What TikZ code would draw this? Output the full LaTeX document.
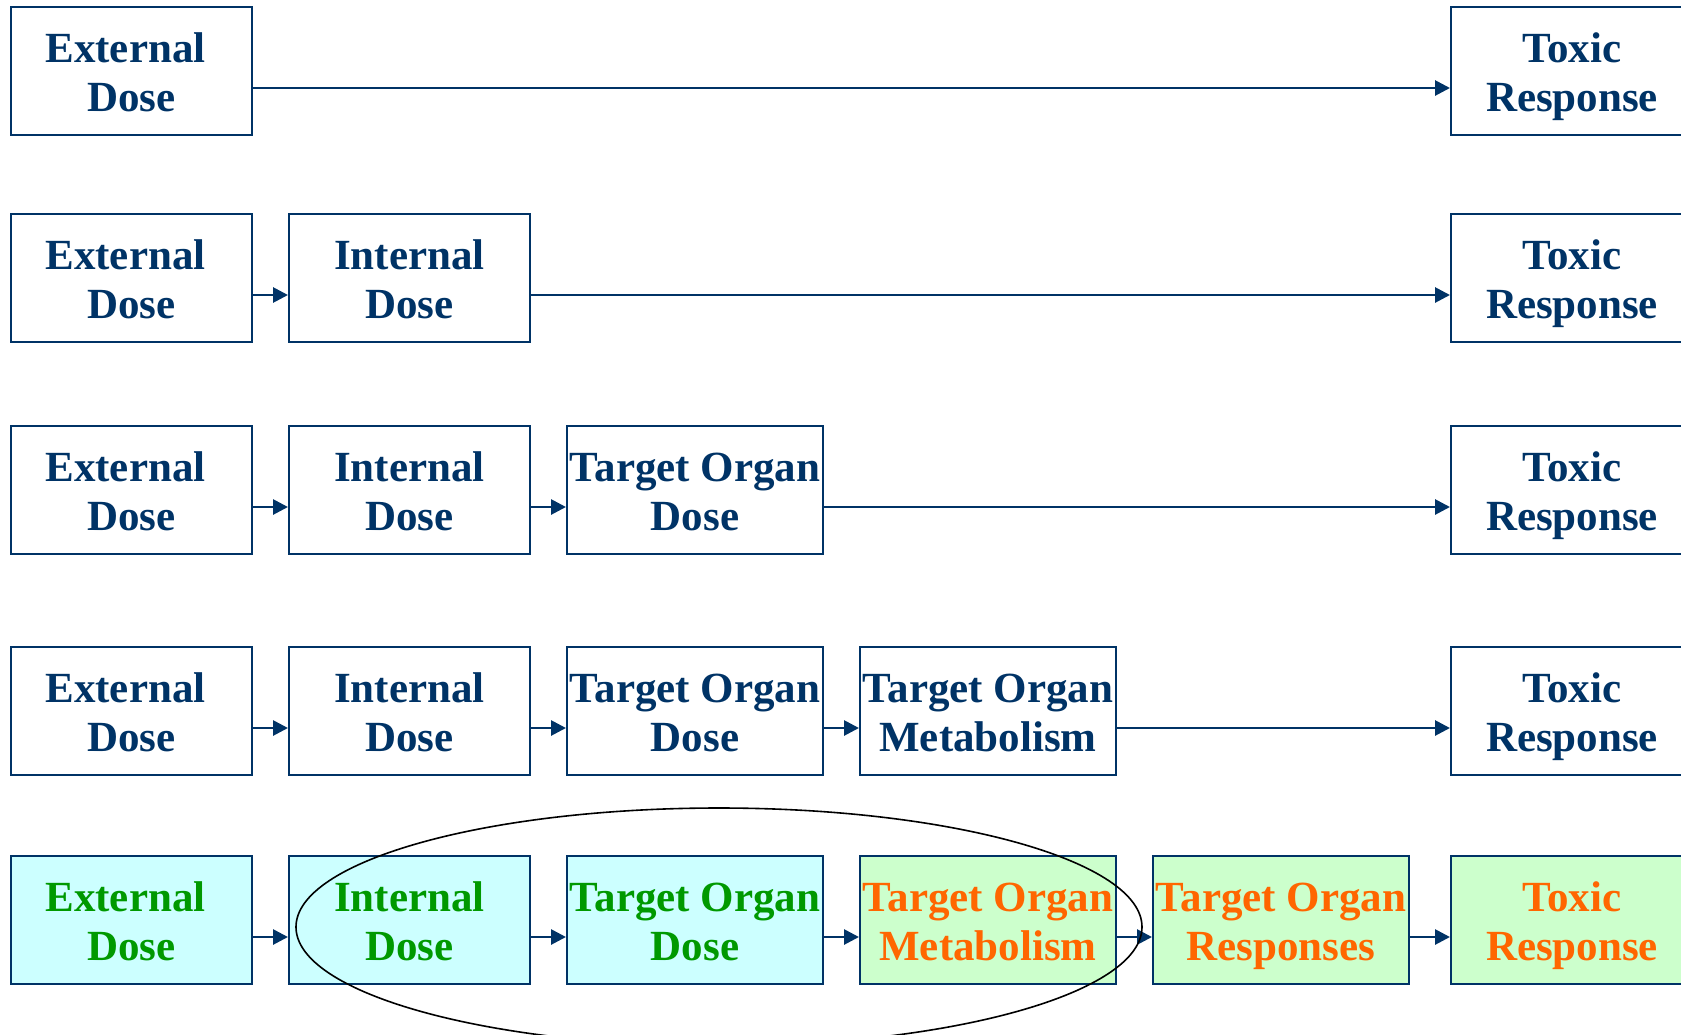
\documentclass[tikz,border=0pt]{standalone}
\usepackage{fontspec}
\setmainfont{Liberation Serif}
\usetikzlibrary{arrows.meta}
\definecolor{navy}{RGB}{0,51,102}
\definecolor{cyanfill}{RGB}{204,255,255}
\definecolor{greenfill}{RGB}{204,255,204}
\definecolor{gtext}{RGB}{0,153,0}
\definecolor{otext}{RGB}{255,102,0}
\newcommand\twol[2]{\rule{0pt}{41pt}#1\\#2\rule[-9pt]{0pt}{0pt}}
\newcommand\extl{External\kern12pt\rule{0pt}{1pt}}
\begin{document}
\begin{tikzpicture}[x=1pt,y=-1pt,
  box/.style={draw=navy, line width=2pt, rectangle, anchor=north west,
    minimum height=128pt, inner sep=0pt, align=center,
    font=\fontsize{43}{49}\selectfont\bfseries, text=navy},
  wa/.style={minimum width=241pt},
  wb/.style={minimum width=256pt},
  wc/.style={minimum width=242pt},
  blue/.style={fill=cyanfill, text=gtext},
  lgreen/.style={fill=greenfill, text=otext},
  link/.style={navy, line width=2.8pt, -{Triangle[length=15pt,width=15pt]}},
  ring/.style={draw=black, line width=1.6pt}
]
\useasboundingbox (0,0) rectangle (1681,1034);

% Row 1
\node[box,wa] (a1) at (10,6) {\twol{\extl}{Dose}};
\node[box,wc] (f1) at (1450,6) {\twol{Toxic}{Response}};
% Row 2
\node[box,wa] (a2) at (10,213) {\twol{\extl}{Dose}};
\node[box,wa] (b2) at (288,213) {\twol{Internal}{Dose}};
\node[box,wc] (f2) at (1450,213) {\twol{Toxic}{Response}};
% Row 3
\node[box,wa] (a3) at (10,425) {\twol{\extl}{Dose}};
\node[box,wa] (b3) at (288,425) {\twol{Internal}{Dose}};
\node[box,wb] (c3) at (566,425) {\twol{Target Organ}{Dose}};
\node[box,wc] (f3) at (1450,425) {\twol{Toxic}{Response}};
% Row 4
\node[box,wa] (a4) at (10,646) {\twol{\extl}{Dose}};
\node[box,wa] (b4) at (288,646) {\twol{Internal}{Dose}};
\node[box,wb] (c4) at (566,646) {\twol{Target Organ}{Dose}};
\node[box,wb] (d4) at (859,646) {\twol{Target Organ}{Metabolism}};
\node[box,wc] (f4) at (1450,646) {\twol{Toxic}{Response}};
% Row 5
\node[box,wa,blue] (a5) at (10,855) {\twol{\extl}{Dose}};
\node[box,wa,blue] (b5) at (288,855) {\twol{Internal}{Dose}};
\node[box,wb,blue] (c5) at (566,855) {\twol{Target Organ}{Dose}};
\node[box,wb,lgreen] (d5) at (859,855) {\twol{Target Organ}{Metabolism}};
\node[box,wb,lgreen] (e5) at (1152,855) {\twol{Target Organ}{Responses}};
\node[box,wc,lgreen] (f5) at (1450,855) {\twol{Toxic}{Response}};

% Connectors
\draw[link] ([yshift=-17pt]a1.east) -- ([yshift=-17pt]f1.west);
\draw[link] ([yshift=-17pt]a2.east) -- ([yshift=-17pt]b2.west);
\draw[link] ([yshift=-17pt]b2.east) -- ([yshift=-17pt]f2.west);
\draw[link] ([yshift=-17pt]a3.east) -- ([yshift=-17pt]b3.west);
\draw[link] ([yshift=-17pt]b3.east) -- ([yshift=-17pt]c3.west);
\draw[link] ([yshift=-17pt]c3.east) -- ([yshift=-17pt]f3.west);
\draw[link] ([yshift=-17pt]a4.east) -- ([yshift=-17pt]b4.west);
\draw[link] ([yshift=-17pt]b4.east) -- ([yshift=-17pt]c4.west);
\draw[link] ([yshift=-17pt]c4.east) -- ([yshift=-17pt]d4.west);
\draw[link] ([yshift=-17pt]d4.east) -- ([yshift=-17pt]f4.west);
\draw[link] ([yshift=-17pt]a5.east) -- ([yshift=-17pt]b5.west);
\draw[link] ([yshift=-17pt]b5.east) -- ([yshift=-17pt]c5.west);
\draw[link] ([yshift=-17pt]c5.east) -- ([yshift=-17pt]d5.west);
\draw[link] ([yshift=-17pt]d5.east) -- ([yshift=-17pt]e5.west);
\draw[link] ([yshift=-17pt]e5.east) -- ([yshift=-17pt]f5.west);

% Ellipse
\draw[ring] (719,927) ellipse [x radius=423pt, y radius=119pt];
\end{tikzpicture}
\end{document}
